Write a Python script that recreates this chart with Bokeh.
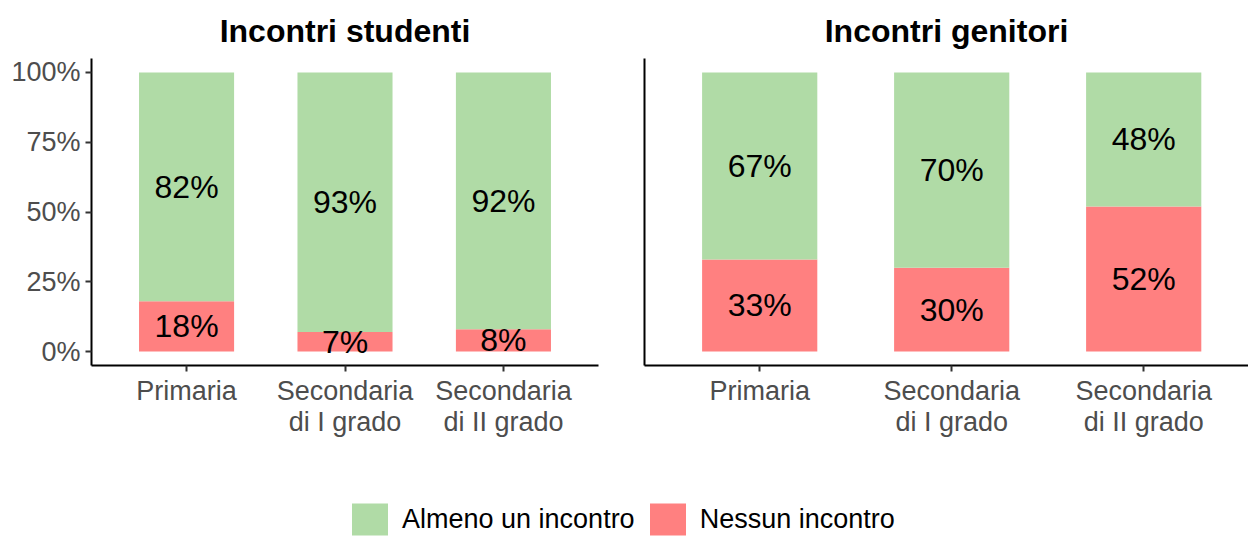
from bokeh.plotting import figure
from bokeh.layouts import column, row
from bokeh.models import (ColumnDataSource, FixedTicker, Range1d, Legend,
                          LegendItem, NumeralTickFormatter)
from bokeh.core.properties import value
from bokeh.embed import file_html
from bokeh.resources import INLINE

# ---------------- data ----------------
categories = ["Primaria", "Secondaria\ndi I grado", "Secondaria\ndi II grado"]
studenti_almeno = [0.82, 0.93, 0.92]
studenti_nessuno = [0.18, 0.07, 0.08]
genitori_almeno = [0.67, 0.70, 0.48]
genitori_nessuno = [0.33, 0.30, 0.52]
y_ticks = [0, 0.25, 0.5, 0.75, 1.0]
series_labels = ["Almeno un incontro", "Nessun incontro"]
panel_titles = ["Incontri studenti", "Incontri genitori"]

GREEN = "#b0dba6"
RED = "#ff8080"
FONT = "Liberation Sans"
GREY = "#4d4d4d"


def panel(title, almeno, nessuno, width, border_left, border_right, x_end, show_y, title_offset=0):
    xs = list(range(1, len(categories) + 1))
    src = ColumnDataSource(dict(
        x=xs,
        nessuno=nessuno,
        total=[a + n for a, n in zip(almeno, nessuno)],
        y_n=[n / 2 for n in nessuno],
        y_a=[n + a / 2 for a, n in zip(almeno, nessuno)],
        lab_n=["%d%%" % round(n * 100) for n in nessuno],
        lab_a=["%d%%" % round(a * 100) for a in almeno],
    ))
    p = figure(width=width, height=440, x_range=Range1d(0.4, x_end),
               y_range=Range1d(-0.05, 1.05), output_backend="svg",
               toolbar_location=None, title=title,
               min_border_left=border_left, min_border_right=border_right,
               min_border_top=58, min_border_bottom=73)
    p.vbar(x="x", bottom=0, top="nessuno", width=0.6, source=src,
           fill_color=RED, line_color=None)
    p.vbar(x="x", bottom="nessuno", top="total", width=0.6, source=src,
           fill_color=GREEN, line_color=None)
    for yk, lk in (("y_n", "lab_n"), ("y_a", "lab_a")):
        p.text(x="x", y=yk, text=lk, source=src, text_align="center",
               text_baseline="middle", text_font=value(FONT),
               text_font_size="32px", text_color="black")

    p.title.align = "center"
    p.title.text_font = FONT
    p.title.text_font_size = "32px"
    p.title.text_font_style = "bold"
    p.title.text_color = "black"
    p.title.standoff = 20
    p.title.offset = title_offset

    p.outline_line_color = None
    p.xgrid.grid_line_color = None
    p.ygrid.grid_line_color = None
    p.background_fill_color = "white"
    p.border_fill_color = "white"

    xa = p.xaxis[0]
    xa.ticker = FixedTicker(ticks=xs)
    xa.major_label_overrides = {i: c for i, c in zip(xs, categories)}
    xa.axis_line_color = "black"
    xa.axis_line_width = 2
    xa.major_tick_line_color = "#333333"
    xa.major_tick_line_width = 2
    xa.major_tick_out = 6
    xa.major_tick_in = 0
    xa.minor_tick_line_color = None
    xa.major_label_standoff = 4
    xa.major_label_text_font = FONT
    xa.major_label_text_font_size = "27px"
    xa.major_label_text_color = GREY
    xa.major_label_text_line_height = 1.05

    ya = p.yaxis[0]
    ya.axis_line_color = "black"
    ya.axis_line_width = 2
    ya.minor_tick_line_color = None
    if show_y:
        ya.ticker = FixedTicker(ticks=y_ticks)
        ya.formatter = NumeralTickFormatter(format="0%")
        ya.major_tick_line_color = "#333333"
        ya.major_tick_line_width = 2
        ya.major_tick_out = 6
        ya.major_tick_in = 0
        ya.major_label_standoff = 5
        ya.major_label_text_font = FONT
        ya.major_label_text_font_size = "27px"
        ya.major_label_text_color = GREY
    else:
        ya.ticker = FixedTicker(ticks=[])
        ya.major_tick_line_color = None
    return p


p1 = panel(panel_titles[0], studenti_almeno, studenti_nessuno, 621, 91, 23, 3.6, True)
p2 = panel(panel_titles[1], genitori_almeno, genitori_nessuno, 627, 23, 0,
           0.4 + 604 / 192.0, False, title_offset=5)

# legend strip (zero-height placeholder bars only carry the legend swatches)
p3 = figure(width=1248, height=99, x_range=(0, 1), y_range=(0, 1),
            output_backend="svg", toolbar_location=None,
            x_axis_type=None, y_axis_type=None,
            min_border=0)
p3.outline_line_color = None
p3.xgrid.grid_line_color = None
p3.ygrid.grid_line_color = None
r_g = p3.vbar(x=[0], top=[0], bottom=[0], width=0.0, fill_color=GREEN, line_color=None)
r_r = p3.vbar(x=[0], top=[0], bottom=[0], width=0.0, fill_color=RED, line_color=None)
leg = Legend(items=[LegendItem(label=series_labels[0], renderers=[r_g]),
                    LegendItem(label=series_labels[1], renderers=[r_r])],
             orientation="horizontal", location=(347, 0),
             glyph_width=45, glyph_height=40, label_standoff=10, spacing=10,
             padding=0, margin=0, border_line_color=None,
             background_fill_alpha=0,
             label_text_font=FONT, label_text_font_size="27px",
             label_text_color="black")
p3.add_layout(leg, "center")

layout = column(row(p1, p2, spacing=0), p3, spacing=0)

open("out.html", "w").write(file_html(layout, INLINE))
